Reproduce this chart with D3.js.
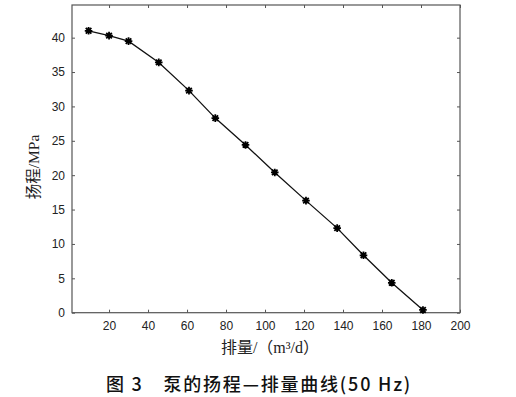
<!DOCTYPE html>
<html><head><meta charset="utf-8">
<script src="https://cdn.jsdelivr.net/npm/d3@7"></script>
<style>body{margin:0;background:#fff}svg{display:block}</style>
</head><body>
<svg id="c" width="516" height="397"></svg>
<script>
const flow = [9.5, 20, 30, 45.5, 61, 74.5, 90, 105, 121, 137, 150.5, 165, 181];
const head = [41.0, 40.3, 39.5, 36.4, 32.3, 28.3, 24.4, 20.4, 16.3, 12.3, 8.35, 4.35, 0.4];
const xTicks = [20, 40, 60, 80, 100, 120, 140, 160, 180, 200];
const yTicks = [0, 5, 10, 15, 20, 25, 30, 35, 40];
const xLabel = "排量/（m³/d）";
const yLabel = "扬程/MPa";
const title = "图 3　泵的扬程—排量曲线(50 Hz)";

const svg = d3.select("#c");
const L = 72, R = 460, T = 5, B = 312.7;
const x = d3.scaleLinear().domain([1, 200]).range([L, R]);
const y = d3.scaleLinear().domain([0, 44.75]).range([B, T]);
const axCol = "#555";
const txtCol = "#222";
const tickFont = "12px 'Liberation Sans', Arial, sans-serif";

function styleAxis(g, showText) {
  g.select(".domain").remove();
  g.selectAll(".tick line").attr("stroke", axCol).attr("stroke-width", 1);
  g.selectAll(".tick text").attr("fill", txtCol).style("font", tickFont);
  if (!showText) g.selectAll(".tick text").remove();
}
svg.append("g").attr("transform", `translate(0,${B})`)
  .call(d3.axisBottom(x).tickValues(xTicks).tickSize(-3).tickPadding(9).tickFormat(d3.format("d")))
  .call(g => styleAxis(g, true));
svg.append("g").attr("transform", `translate(0,${T})`)
  .call(d3.axisTop(x).tickValues(xTicks).tickSize(-3))
  .call(g => styleAxis(g, false));
svg.append("g").attr("transform", `translate(${L},0)`)
  .call(d3.axisLeft(y).tickValues(yTicks).tickSize(-3).tickPadding(7).tickFormat(d3.format("d")))
  .call(g => styleAxis(g, true));
svg.append("g").attr("transform", `translate(${R},0)`)
  .call(d3.axisRight(y).tickValues(yTicks).tickSize(-3))
  .call(g => styleAxis(g, false));

svg.append("rect").attr("x", L).attr("y", T).attr("width", R - L).attr("height", B - T)
  .attr("fill", "none").attr("stroke", axCol).attr("stroke-width", 1.2);

const pts = flow.map((f, i) => [f, head[i]]);
svg.append("path").datum(pts)
  .attr("d", d3.line().x(d => x(d[0])).y(d => y(d[1])))
  .attr("fill", "none").attr("stroke", "#111").attr("stroke-width", 1.3);

const s = 3.8, s2 = 2.8;
svg.append("g").selectAll("path").data(pts).join("path")
  .attr("transform", d => `translate(${x(d[0])},${y(d[1])})`)
  .attr("d", `M${-s},0H${s}M0,${-s}V${s}M${-s2},${-s2}L${s2},${s2}M${-s2},${s2}L${s2},${-s2}`)
  .attr("stroke", "#000").attr("stroke-width", 1.8).attr("fill", "none");
svg.append("g").selectAll("circle").data(pts).join("circle")
  .attr("cx", d => x(d[0])).attr("cy", d => y(d[1])).attr("r", 2.2).attr("fill", "#000");

svg.append("text").attr("x", 270).attr("y", 353)
  .attr("text-anchor", "middle").attr("fill", txtCol)
  .style("font", "16px 'Liberation Serif', 'Noto Sans CJK SC', serif")
  .text(xLabel);
svg.append("text").attr("transform", "translate(39,167) rotate(-90)")
  .attr("text-anchor", "middle").attr("fill", txtCol)
  .style("font", "15.5px 'Liberation Serif', 'Noto Sans CJK SC', serif")
  .text(yLabel);
svg.append("text").attr("x", 259).attr("y", 391)
  .attr("text-anchor", "middle").attr("fill", "#111")
  .style("font", "500 18px 'Noto Sans CJK SC', sans-serif")
  .style("letter-spacing", "1.8px")
  .text(title);
</script>
</body></html>
